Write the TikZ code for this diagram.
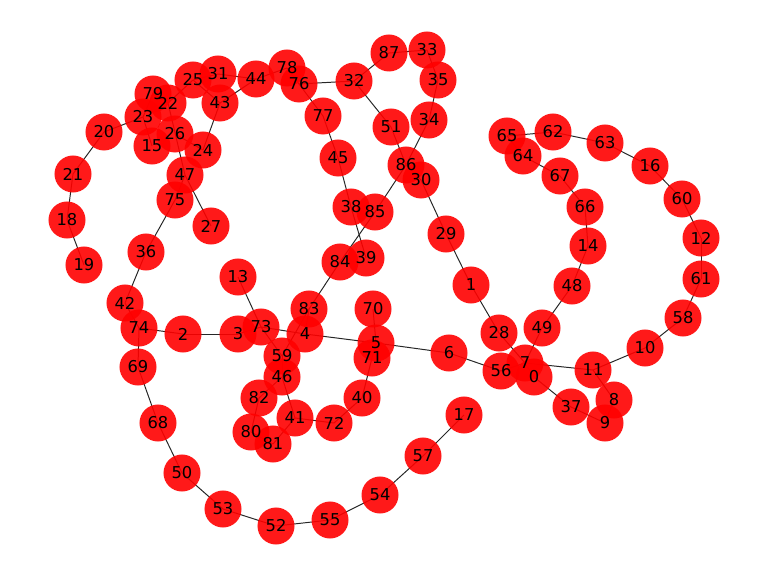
\documentclass[tikz,border=0pt]{standalone}
\usepackage{fontspec}
\setmainfont{DejaVu Sans}
\pgfdeclarelayer{sfondo}
\pgfdeclarelayer{testo}
\pgfsetlayers{sfondo,main,testo}
\tikzset{
  nodo/.style={circle, fill=red, fill opacity=0.9, minimum size=0.925cm, inner sep=0pt},
  etichetta/.style={font=\fontsize{11.6}{14}\selectfont, text=black, inner sep=0pt},
  arco/.style={line width=0.7pt, black!85}
}
\begin{document}
\begin{tikzpicture}[x=0.025cm,y=-0.025cm]
  \useasboundingbox (0,0) rectangle (768,576);
  %nodi (coordinate in pixel)
  \foreach \n/\px/\py in {0/534/377, 1/471/285, 2/183/334, 3/238/334, 4/305/334,
      5/376/343, 6/449/353, 7/525/363, 8/614/400, 9/605/423, 10/645/348,
      11/593/370, 12/701/238, 13/238/277, 14/588/246, 15/152/146, 16/650/166,
      17/464/415, 18/67/220, 19/84/265, 20/104/132, 21/73/174, 22/168/103,
      23/143/117, 24/203/150, 25/193/80, 26/175/134, 27/211/226, 28/499/333,
      29/446/234, 30/421/180, 31/218/74, 32/354/81, 33/427/50, 34/429/120,
      35/438/80, 36/146/252, 37/571/407, 38/351/207, 39/366/258, 40/362/398,
      41/295/418, 42/125/303, 43/220/103, 44/256/79, 45/338/158, 46/282/377,
      47/185/175, 48/572/286, 49/542/328, 50/182/473, 51/391/127, 52/276/526,
      53/223/509, 54/380/495, 55/330/520, 56/501/371, 57/423/456, 58/683/318,
      59/282/356, 60/682/199, 61/701/279, 62/553/132, 63/605/143, 64/523/156,
      65/507/136, 66/585/207, 67/560/176, 68/158/423, 69/138/367, 70/373/309,
      71/372/358, 72/334/423, 73/261/327, 74/139/328, 75/175/200, 76/299/84,
      77/323/116, 78/287/68, 79/153/94, 80/251/432, 81/273/444, 82/259/398,
      83/309/309, 84/340/262, 85/375/212, 86/406/165, 87/389/53}{
    \node[nodo] (n\n) at (\px,\py) {};
    \begin{pgfonlayer}{testo}
      \node[etichetta] (l\n) at (n\n) {\n};
    \end{pgfonlayer}
  }
  %archi
  \begin{pgfonlayer}{sfondo}
    \foreach \a/\b in {19/18, 18/21, 21/20, 20/23, 23/15, 23/79, 79/22, 22/25,
        22/47, 26/24, 25/43, 25/31, 31/44, 43/44, 43/24, 47/27, 47/75, 75/36,
        36/42, 42/74, 74/2, 74/69, 2/3, 3/73, 73/13, 73/4, 73/59, 4/83, 4/5,
        83/59, 59/46, 46/41, 46/82, 82/80, 80/81, 81/41, 41/72, 72/40, 40/71,
        71/5, 5/70, 5/6, 6/56, 56/7, 7/28, 7/49, 7/11, 7/0, 0/37, 37/9, 9/8,
        8/11, 11/10, 10/58, 58/61, 61/12, 12/60, 60/16, 16/63, 63/62, 62/65,
        65/64, 64/67, 67/66, 66/14, 14/48, 48/49, 28/1, 1/29, 29/30, 30/86,
        86/34, 86/51, 86/85, 85/84, 84/83, 38/39, 38/45, 45/77, 77/76, 76/32,
        76/78, 78/44, 32/87, 32/51, 87/33, 33/35, 35/34, 69/68, 68/50, 50/53,
        53/52, 52/55, 55/54, 54/57, 57/17}
      \draw[arco] (n\a.center) -- (n\b.center);
  \end{pgfonlayer}
\end{tikzpicture}
\end{document}
